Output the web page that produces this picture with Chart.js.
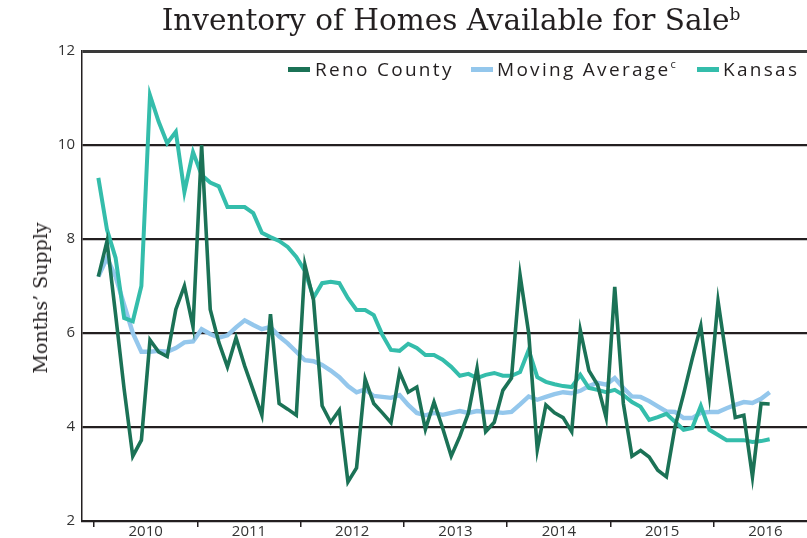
<!DOCTYPE html>
<html>
<head>
<meta charset="utf-8">
<script src="https://cdn.jsdelivr.net/npm/chart.js@4.4.1/dist/chart.umd.min.js"></script>
<style>
  html, body { margin: 0; padding: 0; background: #fff; overflow: hidden; }
  #wrap { position: relative; width: 807px; height: 538px; overflow: hidden; }
  #box { position: absolute; left: 0; top: 0; width: 830px; height: 538px; }
  #title {
    position: absolute; left: 0; width: 902px; top: 3px; text-align: center;
    font-family: 'DejaVu Serif', serif; font-size: 29.5px; color: #231f20; white-space: nowrap;
  }
  #title sup { font-size: 17px; vertical-align: 10px; }
  #ytitle {
    position: absolute; left: 40px; top: 298px; transform: translate(-50%, -50%) rotate(-90deg);
    font-family: 'DejaVu Serif', serif; font-size: 19px; color: #231f20; white-space: nowrap;
  }
  .leg {
    position: absolute; top: 56px; white-space: nowrap;
    font-family: 'Open Sans', sans-serif; font-size: 19px; letter-spacing: 2.3px; color: #231f20;
  }
  .sw { position: absolute; top: 67px; width: 22px; height: 5px; }
  .leg sup { font-size: 11px; vertical-align: 8px; letter-spacing: 0; }
</style>
</head>
<body>
<div id="wrap">
  <div id="box"><canvas id="chart"></canvas></div>
  <div id="title">Inventory of Homes Available for Sale<sup>b</sup></div>
  <div id="ytitle">Months’ Supply</div>
  <div class="sw" style="left:288px;background:#1b7256"></div>
  <div class="leg" style="left:315px">Reno County</div>
  <div class="sw" style="left:471px;background:#94c7ec"></div>
  <div class="leg" style="left:497px">Moving Average<sup>c</sup></div>
  <div class="sw" style="left:697px;background:#34bdab"></div>
  <div class="leg" style="left:723px">Kansas</div>
</div>
<script>
// monthly values, Jan 2010 - Jul 2016
const years = ['2010', '2011', '2012', '2013', '2014', '2015', '2016'];

const renoCounty = [
  7.2, 7.95, 6.4, 4.8, 3.38, 3.72, 5.85, 5.6, 5.5, 6.5, 7.0, 6.13,
  10.0, 6.5, 5.8, 5.28, 5.9, 5.3, 4.78, 4.25, 6.4, 4.5, 4.38, 4.25,
  7.45, 6.7, 4.45, 4.1, 4.36, 2.83, 3.13, 5.02, 4.5, 4.3, 4.09, 5.17,
  4.74, 4.85, 3.95, 4.53, 3.98, 3.38, 3.8, 4.3, 5.25, 3.9, 4.1, 4.78,
  5.04, 7.23, 6.0, 3.52, 4.47, 4.3, 4.2, 3.9, 6.06, 5.2, 4.9, 4.2,
  6.98, 4.5, 3.38, 3.5, 3.36, 3.08, 2.94, 4.0, 4.7, 5.45, 6.15, 4.68,
  6.68, 5.43, 4.2, 4.25, 2.94, 4.5, 4.49
];

const movingAverage = [
  7.2, 7.6, 7.2, 6.6, 6.0, 5.6, 5.6, 5.62, 5.6, 5.68, 5.8, 5.82,
  6.08, 5.98, 5.9, 5.95, 6.12, 6.27, 6.17, 6.08, 6.13, 5.93, 5.78, 5.6,
  5.42, 5.4, 5.32, 5.2, 5.06, 4.87, 4.74, 4.8, 4.66, 4.64, 4.62, 4.68,
  4.47, 4.3, 4.25, 4.3, 4.26, 4.3, 4.34, 4.3, 4.34, 4.32, 4.32, 4.3,
  4.32, 4.48, 4.65, 4.58, 4.64, 4.7, 4.74, 4.72, 4.77, 4.87, 4.94, 4.9,
  5.04, 4.83, 4.65, 4.64, 4.55, 4.44, 4.33, 4.32, 4.19, 4.19, 4.3, 4.32,
  4.32, 4.4, 4.47, 4.53, 4.51, 4.6, 4.74
];

const kansas = [
  9.3, 8.2, 7.6, 6.32, 6.25, 7.0, 11.06, 10.5, 10.04, 10.28, 9.0, 9.85,
  9.36, 9.2, 9.12, 8.68, 8.68, 8.68, 8.55, 8.13, 8.04, 7.96, 7.83, 7.62,
  7.32, 6.75, 7.06, 7.09, 7.06, 6.74, 6.49, 6.49, 6.38, 5.96, 5.64, 5.62,
  5.77, 5.68, 5.53, 5.53, 5.43, 5.28, 5.09, 5.13, 5.04, 5.11, 5.15, 5.09,
  5.09, 5.17, 5.64, 5.06, 4.96, 4.91, 4.87, 4.85, 5.11, 4.83, 4.79, 4.74,
  4.79, 4.68, 4.53, 4.43, 4.15, 4.21, 4.28, 4.11, 3.94, 3.98, 4.45, 3.94,
  3.83, 3.72, 3.72, 3.72, 3.68, 3.7, 3.74
];

const yTicks = [2, 4, 6, 8, 10, 12];

// month i sits in the middle of its month slot
const toPoints = arr => arr.map((v, i) => ({ x: i + 0.5, y: v }));

const ink = '#231f20';

new Chart(document.getElementById('chart'), {
  type: 'line',
  data: {
    datasets: [
      { label: 'Reno County', data: toPoints(renoCounty), borderColor: '#1b7256', borderWidth: 3.6, order: 1 },
      { label: 'Moving Average', data: toPoints(movingAverage), borderColor: '#94c7ec', borderWidth: 4.4, order: 3 },
      { label: 'Kansas', data: toPoints(kansas), borderColor: '#34bdab', borderWidth: 4, order: 2 }
    ]
  },
  options: {
    responsive: true,
    maintainAspectRatio: false,
    animation: false,
    elements: { point: { radius: 0 }, line: { tension: 0 } },
    layout: { padding: { top: 51, right: 13, bottom: 0, left: 0 } },
    plugins: { legend: { display: false }, tooltip: { enabled: false } },
    scales: {
      x: {
        type: 'linear',
        min: -1.4,
        max: 84,
        afterBuildTicks: s => { s.ticks = []; for (let m = 0; m <= 84; m += 6) s.ticks.push({ value: m }); },
        afterFit: s => { s.height = 17; },
        ticks: {
          autoSkip: false, maxRotation: 0, padding: -4, color: '#333',
          font: { family: 'Open Sans', size: 15 },
          callback: v => (v % 12 === 6 ? years[(v - 6) / 12] : '')
        },
        grid: {
          drawOnChartArea: false, tickLength: 6, lineWidth: 1.5,
          color: c => (c.tick && c.tick.value % 12 === 0 ? ink : 'rgba(0,0,0,0)')
        },
        border: { color: ink, width: 2 }
      },
      y: {
        min: 2,
        max: 12,
        afterBuildTicks: s => { s.ticks = yTicks.map(v => ({ value: v })); },
        afterFit: s => { s.width = 82; },
        ticks: { padding: 7, color: '#333', font: { family: 'Open Sans', size: 15 } },
        grid: {
          drawTicks: false,
          color: c => (c.tick && c.tick.value === 12 ? '#3a3a3a' : ink),
          lineWidth: c => (c.tick && c.tick.value === 12 ? 3 : 2.2)
        },
        border: { color: ink, width: 1.5 }
      }
    }
  }
});
</script>
</body>
</html>
